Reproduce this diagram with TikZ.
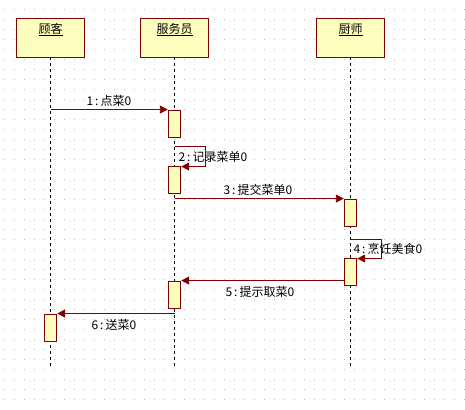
\documentclass[tikz,border=0pt]{standalone}
\usepackage{fontspec}
\newfontfamily\cjk{Noto Sans CJK SC}
\usetikzlibrary{arrows.meta, calc}
\definecolor{roseline}{RGB}{128,0,0}
\definecolor{rosefill}{RGB}{255,255,192}
\definecolor{griddot}{RGB}{185,185,185}

\begin{document}
\begin{tikzpicture}[x=1pt, y=-1pt, font=\cjk\fontsize{12}{14}\selectfont,
    actor/.style={draw=roseline, fill=rosefill, line width=0.9pt, minimum width=68pt, minimum height=39pt, inner sep=0pt},
    act/.style={draw=roseline, fill=rosefill, line width=0.9pt, minimum width=12.5pt, minimum height=27pt, inner sep=0pt},
    msg/.style={draw=roseline, line width=0.9pt, -{Triangle[length=8pt, width=8pt]}},
    life/.style={dash pattern=on 3pt off 3pt, line width=0.8pt}]
    \useasboundingbox (0,0) rectangle (465,409);

    % 网格背景
    \foreach \i in {0,...,46} {
        \foreach \j in {0,...,39} {
            \fill[griddot] (\i*10+4,\j*10+9) rectangle ++(1,1);
        }
    }

    % 参与者
    \foreach \name/\x/\txt in {cust/50.5/顾客, waiter/174.5/服务员, chef/350.5/厨师} {
        \node[actor, label={[anchor=north, yshift=-2pt]north:\underline{\txt}}] (\name) at (\x,37.5) {};
    }
    \coordinate (bottom) at (0,367);

    % 生命线
    \foreach \name in {cust, waiter, chef} {
        \draw[life] (\name.south) -- (\name.south |- bottom);
    }

    % 激活框
    \node[act] (w1) at (174.5,123.5) {};
    \node[act] (w2) at (174.5,179.5) {};
    \node[act] (k1) at (350.5,212.5) {};
    \node[act] (k2) at (350.5,271.5) {};
    \node[act] (w3) at (174.5,294.5) {};
    \node[act] (c1) at (50.5,327.5) {};

    % 消息
    \draw[msg] (w1.north west -| cust.south) -- (w1.north west);
    \draw[msg] ($(w1.south -| waiter.south)+(0,9)$) -- ++(31,0) |- ([yshift=-1pt]w2.north east);
    \draw[msg] (k1.north west -| waiter.south) -- (k1.north west);
    \draw[msg] ($(k1.south -| chef.south)+(0,13)$) -- ++(31,0) |- ([yshift=-1pt]k2.north east);
    \draw[msg] (w3.north east -| k2.west) -- (w3.north east);
    \draw[msg] (c1.north east -| waiter.south) -- (c1.north east);

    % 标签
    \node[anchor=west] (m1) at (83,101) {1\,:\,点菜0};
    \node[anchor=west] (m2) at (175,157) {2\,:\,记录菜单0};
    \node[anchor=west] (m3) at (220,190) {3\,:\,提交菜单0};
    \node[anchor=west] (m4) at (350,249) {4\,:\,烹饪美食0};
    \node[anchor=west] (m5) at (222,292) {5\,:\,提示取菜0};
    \node[anchor=west] (m6) at (88,325) {6\,:\,送菜0};
\end{tikzpicture}
\end{document}
